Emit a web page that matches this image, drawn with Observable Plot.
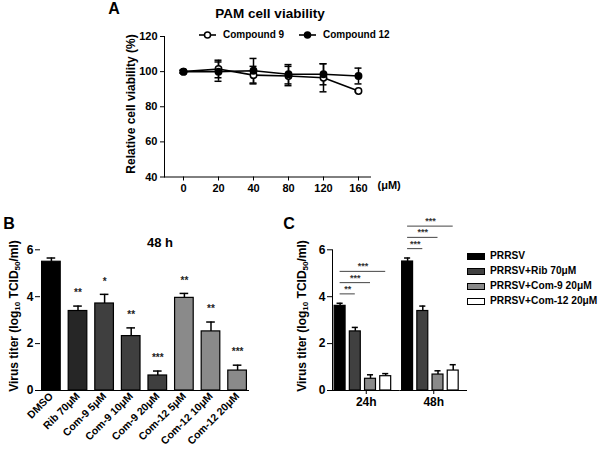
<!DOCTYPE html>
<html><head><meta charset="utf-8">
<script src="https://cdn.jsdelivr.net/npm/d3@7"></script>
<script src="https://cdn.jsdelivr.net/npm/@observablehq/plot@0.6"></script>
<style>
body{margin:0;background:#fff;}
#root{position:relative;width:603px;height:450px;overflow:hidden;font-family:"Liberation Sans",Arial,sans-serif;font-weight:bold;color:#000;}
.abs{position:absolute;white-space:nowrap;line-height:1;}
.plot{position:absolute;}
.ctr{transform:translate(-50%,-50%);}
.vt{position:absolute;white-space:nowrap;line-height:1;transform:translate(-50%,-50%) rotate(-90deg);font-size:12px;}
.vt sub{font-size:8px;vertical-align:-2px;line-height:0;}
</style></head><body><div id="root"></div>
<script>
// ---------- Panel A: PAM cell viability ----------
const concA = ["0", "20", "40", "80", "120", "160"];
const seriesA = ["Compound 9", "Compound 12"];
const c9Mean = [100, 101.5, 98, 97.5, 96.5, 89];
const c9Err = [0.8, 5, 5, 5.5, 8, 0.5];
const c12Mean = [100, 100, 100.5, 98.5, 98.5, 97.5];
const c12Err = [0.8, 5.5, 7, 5.5, 6, 4.5];
const yTicksA = [40, 60, 80, 100, 120];

// ---------- Panel B: 48 h ----------
const catB = ["DMSO", "Rib 70μM", "Com-9 5μM", "Com-9 10μM", "Com-9 20μM", "Com-12 5μM", "Com-12 10μM", "Com-12 20μM"];
const groupB = ["DMSO", "Rib", "Com-9", "Com-9", "Com-9", "Com-12", "Com-12", "Com-12"];
const meanB = [5.49, 3.39, 3.71, 2.32, 0.64, 3.95, 2.52, 0.85];
const errB = [0.16, 0.21, 0.39, 0.35, 0.19, 0.19, 0.4, 0.23];
const sigB = ["", "**", "*", "**", "***", "**", "**", "***"];
const yTicksB = [0, 2, 4, 6];

// ---------- Panel C: 24h / 48h ----------
const timesC = ["24h", "48h"];
const treatC = ["PRRSV", "PRRSV+Rib 70μM", "PRRSV+Com-9 20μM", "PRRSV+Com-12 20μM"];
const meanC24 = [3.61, 2.52, 0.5, 0.61];
const errC24 = [0.11, 0.17, 0.17, 0.11];
const meanC48 = [5.5, 3.39, 0.68, 0.85];
const errC48 = [0.15, 0.21, 0.16, 0.25];
const sigC24 = ["**", "***", "***"];
const sigC48 = ["***", "***", "***"];
const yTicksC = [0, 2, 4, 6];

const FONT = '"Liberation Sans", Arial, sans-serif';
const root = document.getElementById("root");
const fmtInt = d3.format("d");
function baseStyle(size) {
  return {fontFamily: FONT, fontWeight: "bold", fontSize: size, color: "#000", background: "none", overflow: "visible"};
}
function place(el, left, top) {
  el.classList.add("plot");
  el.style.left = left + "px";
  el.style.top = top + "px";
  root.appendChild(el);
}
function html(s) { root.insertAdjacentHTML("beforeend", s); }

// ===== Panel A =====
const rowsA = [];
concA.forEach((c, i) => {
  rowsA.push({conc: c, s: seriesA[0], m: c9Mean[i], e: c9Err[i]});
  rowsA.push({conc: c, s: seriesA[1], m: c12Mean[i], e: c12Err[i]});
});
const plotA = Plot.plot({
  width: 420, height: 200,
  marginLeft: 164, marginRight: 50, marginTop: 36, marginBottom: 23.5,
  style: baseStyle("11px"),
  x: {type: "point", domain: concA, range: [182, 358.5], padding: 0, line: true, tickSize: 4, tickPadding: 3, label: null},
  y: {domain: [40, 120], ticks: yTicksA, tickFormat: fmtInt, line: true, tickSize: 4, tickPadding: 3, label: null},
  marks: [
    Plot.ruleX(rowsA, {x: "conc", y1: d => d.m - d.e, y2: d => d.m + d.e, stroke: "#000", strokeWidth: 1.5}),
    Plot.ruleY(rowsA, {x1: "conc", x2: "conc", y: d => d.m + d.e, insetLeft: -3.5, insetRight: -3.5, strokeWidth: 1.5}),
    Plot.ruleY(rowsA, {x1: "conc", x2: "conc", y: d => d.m - d.e, insetLeft: -3.5, insetRight: -3.5, strokeWidth: 1.5}),
    Plot.line(rowsA, {x: "conc", y: "m", z: "s", stroke: "#000", strokeWidth: 1.6}),
    Plot.dot(rowsA, {x: "conc", y: "m", r: 3.2, fill: d => d.s === seriesA[1] ? "#000" : "#fff", stroke: "#000", strokeWidth: 1.5}),
    Plot.text(["(μM)"], {frameAnchor: "bottom-right", textAnchor: "start", dx: 7, dy: 12, fontSize: 11})
  ]
});
place(plotA, 0, 0);

html(`<div class="abs ctr" style="left:114px;top:9px;font-size:16px">A</div>`);
html(`<div class="abs ctr" style="left:270px;top:14px;font-size:13.5px">PAM cell viability</div>`);
html(`<div class="vt" style="left:130.5px;top:104px">Relative cell viability (%)</div>`);
// legend A
const legA = [{x: 199, fill: "#fff"}, {x: 299, fill: "#000"}];
seriesA.forEach((s, i) => {
  const L = legA[i];
  html(`<svg class="abs" style="left:${L.x}px;top:30px" width="17" height="10"><line x1="0" x2="17" y1="5" y2="5" stroke="#000" stroke-width="1.6"/><circle cx="8.5" cy="5" r="3" fill="${L.fill}" stroke="#000" stroke-width="1.5"/></svg>`);
  html(`<div class="abs" style="left:${L.x + 24}px;top:30px;font-size:10px">${s}</div>`);
});

// ===== Panel B =====
const rowsB = catB.map((c, i) => ({c, g: groupB[i], m: meanB[i], e: errB[i], s: sigB[i]}));
const plotB = Plot.plot({
  width: 260, height: 220,
  marginLeft: 40, marginRight: 12, marginTop: 19.3, marginBottom: 60,
  style: baseStyle("10.5px"),
  x: {domain: catB, paddingInner: 0.3, paddingOuter: 0.06, round: false, tickSize: 0, tickRotate: -45, tickPadding: 4, line: true, label: null},
  y: {domain: [0, 6], ticks: yTicksB, tickFormat: fmtInt, line: true, tickSize: 5, tickPadding: 2, label: null},
  color: {domain: ["DMSO", "Rib", "Com-9", "Com-12"], range: ["#000000", "#262626", "#3f3f3f", "#8a8a8a"]},
  marks: [
    Plot.axisY({ticks: yTicksB, tickFormat: fmtInt, tickSize: 5, tickPadding: 2, fontSize: 12, label: null}),
    Plot.ruleX(rowsB, {x: "c", y1: "m", y2: d => d.m + d.e, strokeWidth: 1.5}),
    Plot.tickY(rowsB, {x: "c", y: d => d.m + d.e, insetLeft: 5, insetRight: 5, strokeWidth: 1.5}),
    Plot.barY(rowsB, {x: "c", y: "m", fill: "g", stroke: "#000", strokeWidth: 1.2}),
    Plot.text(rowsB, {x: "c", y: d => d.m + d.e, text: "s", dy: -13, fontSize: 10, fill: "#222"})
  ]
});
place(plotB, 0, 230);
html(`<div class="abs ctr" style="left:9px;top:224px;font-size:16px">B</div>`);
html(`<div class="abs ctr" style="left:160px;top:242px;font-size:13px">48 h</div>`);
html(`<div class="vt" style="left:14px;top:316px">Virus titer (log<sub>10</sub> TCID<sub>50</sub>/ml)</div>`);

// ===== Panel C =====
const rowsC = [];
timesC.forEach(t => {
  const M = t === "24h" ? meanC24 : meanC48;
  const E = t === "24h" ? errC24 : errC48;
  treatC.forEach((tr, i) => rowsC.push({t, tr, i, m: M[i], e: E[i]}));
});
const bracketsC = [];
timesC.forEach(t => {
  const S = t === "24h" ? sigC24 : sigC48;
  const top = d3.max(rowsC.filter(d => d.t === t), d => d.m + d.e);
  S.forEach((s, k) => bracketsC.push({t, from: 0, to: k + 1, s, y: top + 0.4 + k * 0.48}));
});
const plotC = Plot.plot({
  width: 180, height: 220,
  marginLeft: 32, marginRight: 13, marginTop: 49.3, marginBottom: 30,
  style: baseStyle("12px"),
  fx: {domain: timesC, paddingInner: 0, paddingOuter: 0, round: false, tickSize: 4, tickPadding: 3, label: null},
  x: {domain: [-0.5, 3.94], axis: null},
  y: {domain: [0, 6], ticks: yTicksC, tickFormat: fmtInt, line: true, tickSize: 5, tickPadding: 2, label: null},
  color: {domain: treatC, range: ["#000000", "#404040", "#8a8a8a", "#ffffff"]},
  marks: [
    Plot.ruleY([0], {strokeWidth: 1.2}),
    Plot.ruleX(rowsC, {fx: "t", x: "i", y1: "m", y2: d => d.m + d.e, strokeWidth: 1.5}),
    Plot.ruleY(rowsC, {fx: "t", x1: d => d.i - 0.2, x2: d => d.i + 0.2, y: d => d.m + d.e, strokeWidth: 1.5}),
    Plot.rectY(rowsC, {fx: "t", x1: d => d.i - 0.36, x2: d => d.i + 0.36, y: "m", fill: "tr", stroke: "#000", strokeWidth: 1.2}),
    Plot.ruleY(bracketsC, {fx: "t", x1: "from", x2: "to", y: "y", stroke: "#444", strokeWidth: 1}),
    Plot.text(bracketsC, {fx: "t", x: d => (d.from + d.to) / 2, y: "y", text: "s", dy: -5, fontSize: 9, fill: "#333"})
  ]
});
place(plotC, 300, 200);
html(`<div class="abs ctr" style="left:289px;top:224px;font-size:16px">C</div>`);
html(`<div class="vt" style="left:302px;top:316px">Virus titer (log<sub>10</sub> TCID<sub>50</sub>/ml)</div>`);
// legend C
const fillsC = ["#000000", "#404040", "#8a8a8a", "#ffffff"];
treatC.forEach((tr, i) => {
  const y = 256 + i * 15.3;
  html(`<div class="abs" style="left:467px;top:${y - 3.5}px;width:16px;height:5px;background:${fillsC[i]};border:1px solid #000"></div>`);
  html(`<div class="abs" style="left:490px;top:${y - 5.5}px;font-size:10.2px">${tr}</div>`);
});
</script></body></html>
